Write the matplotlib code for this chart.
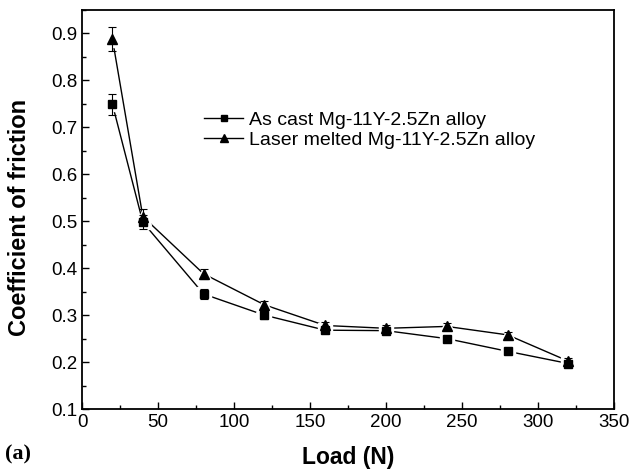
import numpy as np
import matplotlib.pyplot as plt
from matplotlib.ticker import MultipleLocator

plt.rcParams['font.family'] = ['Liberation Sans', 'DejaVu Sans']

load = [20, 40, 80, 120, 160, 200, 240, 280, 320]
as_cast = [0.749, 0.498, 0.345, 0.300, 0.268, 0.267, 0.250, 0.223, 0.197]
as_cast_err = [0.022, 0.015, 0.010, 0.008, 0.007, 0.006, 0.006, 0.005, 0.006]
laser = [0.888, 0.510, 0.388, 0.322, 0.278, 0.272, 0.276, 0.258, 0.202]
laser_err = [0.025, 0.016, 0.010, 0.009, 0.007, 0.006, 0.007, 0.007, 0.006]
labels = ['As cast Mg-11Y-2.5Zn alloy', 'Laser melted Mg-11Y-2.5Zn alloy']

fig = plt.figure(figsize=(6.31, 4.74), dpi=100)
ax = fig.add_axes([0.130, 0.137, 0.843, 0.842])

for y, err, mk, ms, lab in [(as_cast, as_cast_err, 's', 6, labels[0]),
                            (laser, laser_err, '^', 7, labels[1])]:
    # connecting line, then a white halo so the line stops short of the marker
    ax.plot(load, y, color='k', lw=1.0, zorder=1)
    ax.plot(load, y, ls='none', marker=mk, ms=ms + 4, color='w', zorder=2)
    ax.errorbar(load, y, yerr=err, fmt='none', ecolor='k', capsize=3,
                elinewidth=0.8, capthick=0.8, zorder=3)
    ax.plot(load, y, ls='none', marker=mk, ms=ms, color='k', zorder=4)
    # legend proxy
    ax.plot([], [], color='k', lw=1.0, marker=mk, ms=ms - 1.5, label=lab)

ax.set_xlim(0, 350)
ax.set_ylim(0.1, 0.95)
ax.xaxis.set_major_locator(MultipleLocator(50))
ax.xaxis.set_minor_locator(MultipleLocator(25))
ax.yaxis.set_minor_locator(MultipleLocator(0.05))
yt = np.arange(0.1, 0.95, 0.1)
ax.set_yticks(yt)
ax.set_yticklabels(['%.1f' % v for v in yt])
ax.tick_params(which='both', direction='in', labelsize=13.5, width=1.0)
ax.tick_params(which='major', length=5)
ax.tick_params(which='minor', length=3)
for s in ax.spines.values():
    s.set_linewidth(1.3)

ax.set_xlabel('Load (N)', fontsize=16.5, fontweight='bold', labelpad=11)
ax.set_ylabel('Coefficient of friction', fontsize=17, fontweight='bold', labelpad=14)
ax.yaxis.set_label_coords(-0.095, 0.48)

ax.legend(loc='upper left', bbox_to_anchor=(0.215, 0.765), frameon=False,
          fontsize=14, handlelength=2.0, handletextpad=0.3,
          labelspacing=0.1, borderaxespad=0)

fig.text(0.008, 0.03, '(a)', fontsize=16, fontweight='bold',
         family=['Liberation Serif', 'DejaVu Serif'])

fig.savefig('out.png', dpi=100)
